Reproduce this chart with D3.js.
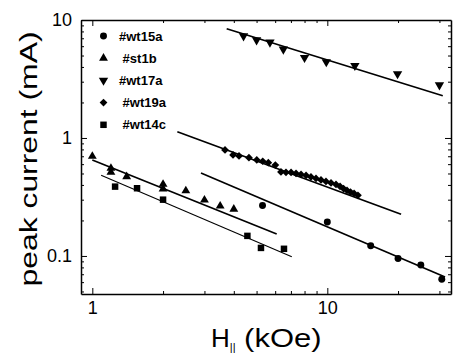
<!DOCTYPE html>
<html lang="en">
<head>
<meta charset="UTF-8">
<title>peak current vs field</title>
<script src="https://d3js.org/d3.v7.min.js"></script>
<style>
    body { margin: 0; background: #fff; }
    svg { font-family: "Liberation Sans", Arial, sans-serif; }
    .legend text { font-size: 13px; font-weight: bold; white-space: pre; }
</style>
</head>
<body>
<svg id="chart" width="454" height="354"></svg>
<script>
    // data (H in kOe, current in mA)
    let wt15aX = [5.3, 10, 15.3, 20, 25, 30.7]
    let wt15aY = [0.268, 0.194, 0.122, 0.095, 0.084, 0.0634]

    let st1bX = [1, 1.2, 1.2, 1.4, 2, 2, 2.5, 3, 3.5, 4]
    let st1bY = [0.70, 0.554, 0.512, 0.47, 0.405, 0.37, 0.357, 0.298, 0.265, 0.249]

    let wt17aX = [4.4, 5, 5.7, 6.5, 8, 9.9, 13.1, 19.9, 30]
    let wt17aY = [7.32, 6.77, 6.47, 5.65, 4.79, 4.41, 4.10, 3.49, 2.81]

    let wt19aX = [3.67, 3.97, 4.21, 4.64, 5.01, 5.31, 5.61, 6.01, 6.35, 6.67, 7.01, 7.36, 7.73,
        8.12, 8.52, 8.95, 9.40, 9.87, 10.37, 10.89, 11.33, 11.72, 12.13, 12.55, 13.0, 13.5]
    let wt19aY = [0.791, 0.718, 0.704, 0.681, 0.651, 0.635, 0.618, 0.590, 0.515, 0.512, 0.510, 0.500, 0.491,
        0.481, 0.467, 0.454, 0.441, 0.428, 0.416, 0.404, 0.388, 0.373, 0.359, 0.348, 0.339, 0.327]

    let wt14cX = [1.25, 1.55, 2, 4.57, 5.22, 6.54]
    let wt14cY = [0.387, 0.375, 0.30, 0.148, 0.117, 0.115]

    // fitted lines: end points
    let fitNames = ["#wt15a", "#st1b", "#wt17a", "#wt19a", "#wt14c"]
    let fitX0 = [2.90, 1.0, 3.73, 2.30, 1.09]
    let fitY0 = [0.505, 0.651, 8.44, 1.131, 0.483]
    let fitX1 = [31.7, 6.09, 31.0, 20.6, 7.06]
    let fitY1 = [0.0664, 0.1536, 2.28, 0.2256, 0.0986]

    let legendLabels = ["#wt15a", " #st1b", "#wt17a", " #wt19a", " #wt14c"]

    let xLabels = [1, 10]
    let yLabels = [0.1, 1, 10]

    let width = 454, height = 354
    let margin = {top: 20, right: 3, bottom: 60, left: 81}
    let svg = d3.select("#chart")

    let x = d3.scaleLog().domain([0.895, 33.6]).range([margin.left, width - margin.right])
    let y = d3.scaleLog().domain([0.0476, 10]).range([height - margin.bottom, margin.top])

    let xTicks = [1, 2, 3, 4, 5, 6, 7, 8, 9, 10, 20, 30]
    let yTicks = []
    ;[0.01, 0.1, 1].forEach(dec => {
        for (let k = 1; k <= 9; k++) yTicks.push(+(dec * k).toPrecision(3))
    })
    yTicks.push(10)
    yTicks = yTicks.filter(v => v >= y.domain()[0] && v <= y.domain()[1])

    function fmt(list) {
        return d => list.includes(d) ? d3.format("~g")(d) : ""
    }

    // axes, ticks pointing inward
    function styleTicks(g, labels, len) {
        g.select(".domain").attr("stroke-width", 1.5)
        g.selectAll(".tick line").attr("stroke-width", 1)
            .each(function (d) {
                let major = labels.includes(d)
                let l = d3.select(this)
                let attr = l.attr("x2") !== null && +l.attr("x2") !== 0 ? "x2" : "y2"
                l.attr(attr, Math.sign(+l.attr(attr)) * (major ? len : len / 2))
            })
        g.selectAll("text").attr("font-size", 18).attr("fill", "#000")
    }

    let gx = svg.append("g").attr("transform", `translate(0,${y.range()[0]})`)
        .call(d3.axisBottom(x).tickValues(xTicks).tickFormat(fmt(xLabels))
            .tickSizeInner(-6).tickSizeOuter(0).tickPadding(7))
    styleTicks(gx, xLabels, 6)

    let gxTop = svg.append("g").attr("transform", `translate(0,${y.range()[1]})`)
        .call(d3.axisTop(x).tickValues(xTicks).tickFormat("").tickSizeInner(-6).tickSizeOuter(0))
    styleTicks(gxTop, xLabels, 6)

    let gy = svg.append("g").attr("transform", `translate(${x.range()[0]},0)`)
        .call(d3.axisLeft(y).tickValues(yTicks).tickFormat(fmt(yLabels))
            .tickSizeInner(-6).tickSizeOuter(0).tickPadding(9))
    styleTicks(gy, yLabels, 6)

    let gyRight = svg.append("g").attr("transform", `translate(${x.range()[1]},0)`)
        .call(d3.axisRight(y).tickValues(yTicks).tickFormat("").tickSizeInner(-6).tickSizeOuter(0))
    styleTicks(gyRight, yLabels, 6)

    // fit lines
    let line = d3.line().x(d => x(d[0])).y(d => y(d[1]))
    fitNames.forEach((n, i) => {
        svg.append("path")
            .attr("d", line([[fitX0[i], fitY0[i]], [fitX1[i], fitY1[i]]]))
            .attr("fill", "none")
            .attr("stroke", "#000")
            .attr("stroke-width", n === "#wt14c" ? 1.1 : 1.7)
    })

    // markers
    let series = [
        {xs: wt15aX, ys: wt15aY, type: d3.symbolCircle, size: 38, rot: 0},
        {xs: st1bX, ys: st1bY, type: d3.symbolTriangle, size: 34, rot: 0},
        {xs: wt17aX, ys: wt17aY, type: d3.symbolTriangle, size: 38, rot: 180},
        {xs: wt19aX, ys: wt19aY, type: d3.symbolSquare, size: 30, rot: 45},
        {xs: wt14cX, ys: wt14cY, type: d3.symbolSquare, size: 42, rot: 0}
    ]
    series.forEach(s => {
        svg.append("g").selectAll("path")
            .data(s.xs.map((v, i) => [v, s.ys[i]]))
            .enter().append("path")
            .attr("d", d3.symbol().type(s.type).size(s.size))
            .attr("transform", d => `translate(${x(d[0])},${y(d[1])}) rotate(${s.rot})`)
            .attr("fill", "#000")
    })

    // legend
    let legend = svg.append("g").attr("class", "legend")
    series.forEach((s, i) => {
        let ly = 36 + i * 22.2
        legend.append("path")
            .attr("d", d3.symbol().type(s.type).size(s.size))
            .attr("transform", `translate(103.5,${ly}) rotate(${s.rot})`)
            .attr("fill", "#000")
        legend.append("text")
            .attr("x", 119)
            .attr("y", ly + 4.5)
            .text(legendLabels[i])
    })

    // axis titles
    let xt = svg.append("text")
        .attr("x", 211)
        .attr("y", 347)
        .attr("font-size", 26)
    xt.append("tspan").text("H")
    xt.append("tspan").attr("font-size", 11).attr("dy", 4).text("||")
    xt.append("tspan").attr("dy", -4)
        .attr("textLength", 86).attr("lengthAdjust", "spacingAndGlyphs")
        .text(" (kOe)")

    svg.append("text")
        .attr("transform", "translate(37,159) rotate(-90)")
        .attr("text-anchor", "middle")
        .attr("font-size", 23)
        .attr("textLength", 255)
        .attr("lengthAdjust", "spacingAndGlyphs")
        .text("peak current (mA)")
</script>
</body>
</html>
